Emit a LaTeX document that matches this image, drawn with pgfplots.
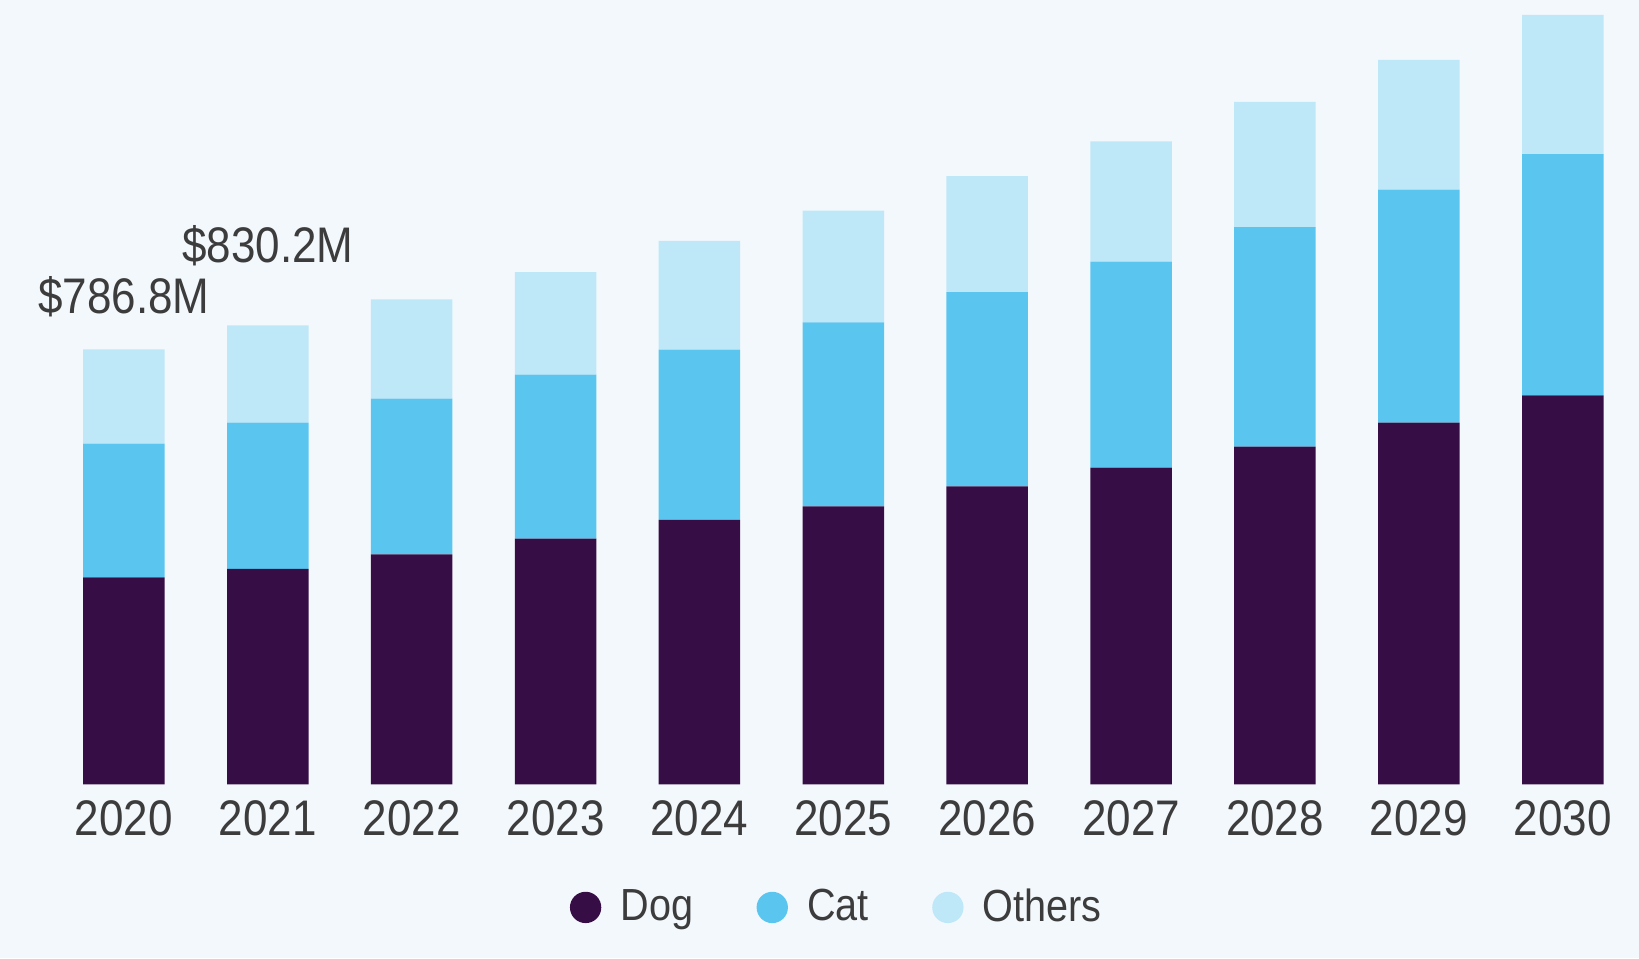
\documentclass[border=0pt]{standalone}
\usepackage{fontspec}
\setmainfont{Liberation Sans}[FakeStretch=0.88]
\usepackage{pgfplots}
\pgfplotsset{compat=1.18}
\definecolor{bg}{HTML}{F3F8FC}
\definecolor{dog}{HTML}{370D46}
\definecolor{cat}{HTML}{5AC6F0}
\definecolor{oth}{HTML}{BEE8F8}
\definecolor{txt}{HTML}{3C3C3C}
\begin{document}
\begin{tikzpicture}
\fill[bg] (0,0) rectangle (491.7pt,287.4pt);
\begin{axis}[
  at={(0pt,52.2pt)}, anchor=south west,
  scale only axis, width=491.7pt, height=235.2pt,
  ybar stacked, bar width=24.45pt,
  xmin=-0.861, xmax=10.530, ymin=0, ymax=1418.3,
  axis line style={draw=none}, major tick length=0pt,
  ytick=\empty,
  xtick={0,1,2,3,4,5,6,7,8,9,10},
  xticklabels={2020,2021,2022,2023,2024,2025,2026,2027,2028,2029,2030},
  xticklabel style={font=\fontsize{15}{18}\selectfont, text=txt, inner sep=0pt, anchor=north, yshift=-4.8pt},
  clip=false,
  legend style={at={(0.512,-0.157)}, anchor=center, draw=none, fill=none,
    legend columns=-1, font=\fontsize{13.5}{16}\selectfont, text=txt,
    /tikz/every even column/.append style={column sep=17pt}},
  legend image code/.code={\fill[#1] (0pt,0pt) circle (4.7pt); \path (8.5pt,0pt);},
]
\addplot[fill=dog, draw=none] coordinates {(0,374.4) (1,389.6) (2,416.0) (3,444.4) (4,478.4) (5,503.0) (6,538.9) (7,573.0) (8,610.8) (9,654.3) (10,703.5)};
\addplot[fill=cat, draw=none] coordinates {(0,242.1) (1,264.8) (2,281.8) (3,296.9) (4,308.2) (5,332.8) (6,351.7) (7,372.5) (8,397.1) (9,421.7) (10,436.8)};
\addplot[fill=oth, draw=none] coordinates {(0,170.3) (1,175.8) (2,179.6) (3,185.3) (4,196.7) (5,202.3) (6,209.9) (7,217.5) (8,226.9) (9,234.5) (10,251.5)};
\legend{Dog,Cat,Others}
\node[anchor=base, font=\fontsize{15}{18}\selectfont, text=txt, inner sep=0pt] at (axis cs:0,852) {\$786.8M};
\node[anchor=base, font=\fontsize{15}{18}\selectfont, text=txt, inner sep=0pt] at (axis cs:1,944) {\$830.2M};
\end{axis}
\end{tikzpicture}
\end{document}
